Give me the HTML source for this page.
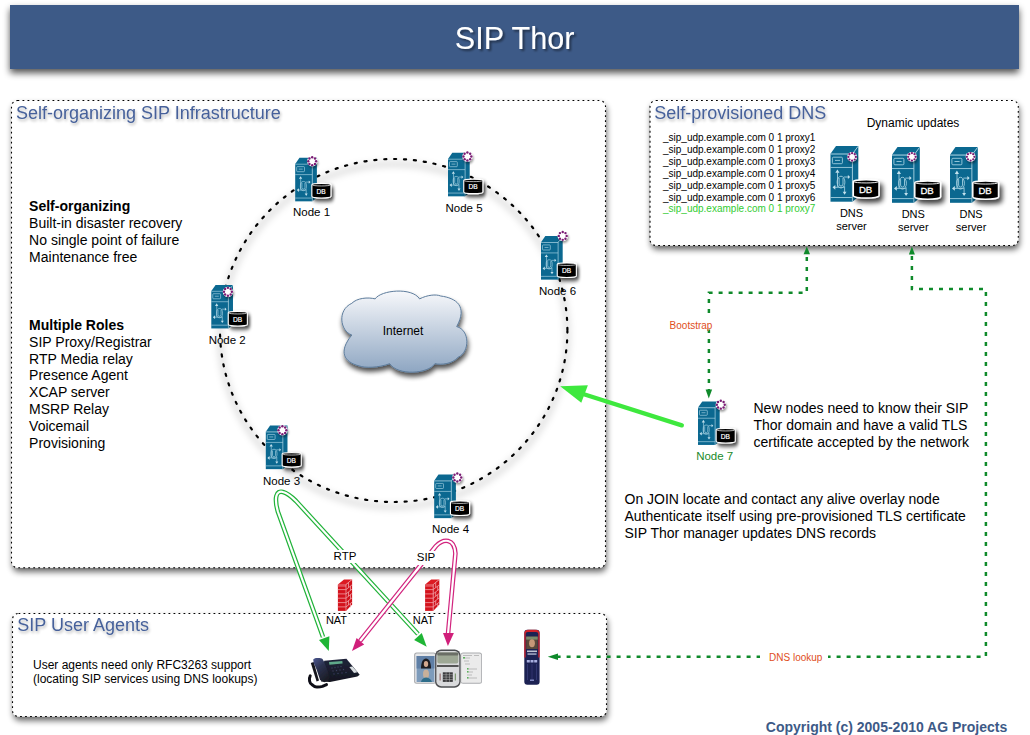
<!DOCTYPE html>
<html><head><meta charset="utf-8">
<style>
html,body{margin:0;padding:0;background:#fff;}
body{width:1030px;height:735px;overflow:hidden;position:relative;}
svg{position:absolute;left:0;top:0;}
text{font-family:"Liberation Sans",sans-serif;}
</style></head>
<body>
<svg width="1030" height="735" viewBox="0 0 1030 735">
<defs>
  <filter id="shBanner" x="-5%" y="-40%" width="110%" height="190%">
    <feGaussianBlur in="SourceAlpha" stdDeviation="3.6"/>
    <feOffset dx="0.3" dy="4.2" result="b"/>
    <feComponentTransfer><feFuncA type="linear" slope="0.68"/></feComponentTransfer>
    <feMerge><feMergeNode/><feMergeNode in="SourceGraphic"/></feMerge>
  </filter>
  <filter id="shBox" x="-5%" y="-5%" width="110%" height="120%">
    <feGaussianBlur in="SourceAlpha" stdDeviation="3.2"/>
    <feOffset dx="1" dy="4" result="b"/>
    <feComponentTransfer><feFuncA type="linear" slope="0.62"/></feComponentTransfer>
    <feMerge><feMergeNode/><feMergeNode in="SourceGraphic"/></feMerge>
  </filter>
  <filter id="shTxt" x="-10%" y="-40%" width="120%" height="180%">
    <feGaussianBlur in="SourceAlpha" stdDeviation="1.6"/>
    <feOffset dx="0.5" dy="1.8" result="b"/>
    <feComponentTransfer><feFuncA type="linear" slope="0.3"/></feComponentTransfer>
    <feMerge><feMergeNode/><feMergeNode in="SourceGraphic"/></feMerge>
  </filter>
  <filter id="shTitle" x="-10%" y="-30%" width="120%" height="160%">
    <feGaussianBlur in="SourceAlpha" stdDeviation="1"/>
    <feOffset dx="1.5" dy="1.5" result="b"/>
    <feComponentTransfer><feFuncA type="linear" slope="0.45"/></feComponentTransfer>
    <feMerge><feMergeNode/><feMergeNode in="SourceGraphic"/></feMerge>
  </filter>
  <filter id="shCloud" x="-20%" y="-20%" width="140%" height="150%">
    <feGaussianBlur in="SourceAlpha" stdDeviation="2.6"/>
    <feOffset dx="1" dy="3.5" result="b"/>
    <feComponentTransfer><feFuncA type="linear" slope="0.7"/></feComponentTransfer>
    <feMerge><feMergeNode/><feMergeNode in="SourceGraphic"/></feMerge>
  </filter>
  <filter id="shRing" x="-20%" y="-20%" width="140%" height="140%">
    <feGaussianBlur stdDeviation="3"/>
  </filter>
  <filter id="shObj" x="-30%" y="-30%" width="160%" height="160%">
    <feGaussianBlur in="SourceAlpha" stdDeviation="1.6"/>
    <feOffset dx="1.5" dy="3" result="b"/>
    <feComponentTransfer><feFuncA type="linear" slope="0.6"/></feComponentTransfer>
    <feMerge><feMergeNode/><feMergeNode in="SourceGraphic"/></feMerge>
  </filter>
  <filter id="shDB" x="-50%" y="-50%" width="220%" height="240%">
    <feGaussianBlur in="SourceAlpha" stdDeviation="2.4"/>
    <feOffset dx="2.5" dy="3.5" result="b"/>
    <feComponentTransfer><feFuncA type="linear" slope="0.75"/></feComponentTransfer>
    <feMerge><feMergeNode/><feMergeNode in="SourceGraphic"/></feMerge>
  </filter>
  <filter id="shDot" x="-60%" y="-60%" width="220%" height="220%">
    <feGaussianBlur in="SourceAlpha" stdDeviation="1"/>
    <feOffset dx="1" dy="1.5" result="b"/>
    <feComponentTransfer><feFuncA type="linear" slope="0.4"/></feComponentTransfer>
    <feMerge><feMergeNode/><feMergeNode in="SourceGraphic"/></feMerge>
  </filter>
  <linearGradient id="cloudG" x1="0" y1="0" x2="0" y2="1">
    <stop offset="0" stop-color="#f7f8fb"/>
    <stop offset="1" stop-color="#8ea6c2"/>
  </linearGradient>
  <!-- server icon in DNS units: front-left=0, top=0, DB right ~48.5, bottom ~56.5 -->
  <symbol id="tw" overflow="visible">
    <g>
      <polygon points="0,8.2 5.5,0.4 27.8,0.4 21.9,8.2" fill="#0b6890"/>
      <polygon points="21.9,8.2 27.8,0.4 27.8,51.5 21.9,56.2" fill="#0b6890"/>
      <rect x="0" y="8.2" width="21.9" height="48" fill="#0b6890"/>
      <g fill="none" stroke="#a9d3e3" stroke-width="0.85">
        <polyline points="0,8.6 21.9,8.6 27.6,0.8"/>
        <line x1="21.9" y1="8.2" x2="21.9" y2="56.2"/>
        <line x1="0" y1="21.95" x2="21.9" y2="21.95"/>
        <line x1="0" y1="52" x2="21.9" y2="52"/>
        <rect x="1.9" y="11.7" width="10" height="6.5" rx="1"/>
        <line x1="4.5" y1="14.9" x2="9.6" y2="14.9"/>
        <line x1="7" y1="27" x2="7" y2="41.3"/>
        <line x1="13.3" y1="31.5" x2="17.8" y2="31.5"/>
        <line x1="14.1" y1="40.7" x2="14.1" y2="46.6"/>
        <line x1="4.4" y1="41.8" x2="13.8" y2="41.8"/>
        <ellipse cx="10.5" cy="36.6" rx="3.9" ry="5.9"/>
        <path d="M8.6,32.5 L8.6,38.5 Q8.6,40.5 10.55,40.5 Q12.5,40.5 12.5,38.5 L12.5,32.5"/>
      </g>
      <g fill="#c4e2ee">
        <polygon points="6.9,24 4.8,27.3 9,27.3"/>
        <polygon points="19.6,31.5 17.4,29.4 17.4,33.6"/>
        <polygon points="14.1,49.3 12.2,46.3 16,46.3"/>
        <polygon points="2,41.8 4.8,39.4 4.8,44.2"/>
      </g>
      </g>
  </symbol>
  <symbol id="db" overflow="visible">
    <g filter="url(#shDB)">
      <path d="M0.75,2.2 A12.85,1.5 0 0 1 26.45,2.2 L26.45,16.7 A12.85,2.2 0 0 1 0.75,16.7 Z" fill="#000" stroke="#fff" stroke-width="1.5"/>
    </g>
    <path d="M1.3,2.5 A12.3,1.3 0 0 0 25.9,2.5" fill="none" stroke="#fff" stroke-width="0.9"/>
</symbol>
  <symbol id="dc" overflow="visible">
    <circle cx="0" cy="0" r="4.9" fill="#fff" filter="url(#shDot)"/>
    <g fill="#7a1c74"><circle cx="0.00" cy="-3.75" r="1.15"/><circle cx="2.65" cy="-2.65" r="1.15"/><circle cx="3.75" cy="-0.00" r="1.15"/><circle cx="2.65" cy="2.65" r="1.15"/><circle cx="0.00" cy="3.75" r="1.15"/><circle cx="-2.65" cy="2.65" r="1.15"/><circle cx="-3.75" cy="0.00" r="1.15"/><circle cx="-2.65" cy="-2.65" r="1.15"/></g>
  </symbol>
</defs>

<!-- Banner -->
<rect x="10" y="5" width="1009" height="64" fill="#3d5a87" filter="url(#shBanner)"/>
<text x="514.6" y="48.8" font-size="30.6" fill="#fff" text-anchor="middle" filter="url(#shTitle)">SIP Thor</text>

<!-- Boxes -->
<g filter="url(#shBox)">
  <rect x="11.5" y="100.5" width="594" height="467.2" rx="6" fill="#fff"/>
  <rect x="650" y="100.5" width="368.3" height="145" rx="6" fill="#fff"/>
  <rect x="12.5" y="613.5" width="594" height="103" rx="6" fill="#fff"/>
</g>
<g fill="none" stroke="#000" stroke-width="1.1" stroke-dasharray="1.8 3.2">
  <rect x="11.5" y="100.5" width="594" height="467.2" rx="6"/>
  <rect x="650" y="100.5" width="368.3" height="145" rx="6"/>
  <rect x="12.5" y="613.5" width="594" height="103" rx="6"/>
</g>

<!-- Box titles -->
<g font-size="18" fill="#46619a" filter="url(#shTxt)">
  <text x="16" y="119">Self-organizing SIP Infrastructure</text>
  <text x="654.2" y="118.5">Self-provisioned DNS</text>
  <text x="17.2" y="630.5">SIP User Agents</text>
</g>

<!-- Left text -->
<g font-size="14" fill="#000">
  <text x="29.1" y="210.7" font-weight="bold">Self-organizing</text>
  <text x="29.1" y="227.7">Built-in disaster recovery</text>
  <text x="29.1" y="244.7">No single point of failure</text>
  <text x="29.1" y="261.6">Maintenance free</text>
  <text x="29.1" y="329.9" font-weight="bold">Multiple Roles</text>
  <text x="29.1" y="346.7">SIP Proxy/Registrar</text>
  <text x="29.1" y="363.6">RTP Media relay</text>
  <text x="29.1" y="380.4">Presence Agent</text>
  <text x="29.1" y="397.3">XCAP server</text>
  <text x="29.1" y="414.1">MSRP Relay</text>
  <text x="29.1" y="431">Voicemail</text>
  <text x="29.1" y="447.8">Provisioning</text>
</g>

<!-- DNS box text -->
<g font-size="10" fill="#000">
  <text x="663" y="141.1">_sip_udp.example.com 0 1 proxy1</text>
  <text x="663" y="152.9">_sip_udp.example.com 0 1 proxy2</text>
  <text x="663" y="164.7">_sip_udp.example.com 0 1 proxy3</text>
  <text x="663" y="176.6">_sip_udp.example.com 0 1 proxy4</text>
  <text x="663" y="188.6">_sip_udp.example.com 0 1 proxy5</text>
  <text x="663" y="200.5">_sip_udp.example.com 0 1 proxy6</text>
  <text x="663" y="212.4" fill="#33cc33">_sip_udp.example.com 0 1 proxy7</text>
</g>
<text x="913" y="126.7" font-size="12" fill="#000" text-anchor="middle">Dynamic updates</text>
<g font-size="11" fill="#000" text-anchor="middle">
  <text x="851.5" y="217">DNS</text><text x="851.5" y="229.7">server</text>
  <text x="913.3" y="217.7">DNS</text><text x="913.3" y="230.5">server</text>
  <text x="971.1" y="217.7">DNS</text><text x="971.1" y="230.5">server</text>
</g>

<!-- Right text -->
<g font-size="14" fill="#000">
  <text x="753.5" y="413.2">New nodes need to know their SIP</text>
  <text x="753.5" y="430">Thor domain and have a valid TLS</text>
  <text x="753.5" y="446.5">certificate accepted by the network</text>
  <text x="624.5" y="504.2">On JOIN locate and contact any alive overlay node</text>
  <text x="624.5" y="521">Authenticate itself using pre-provisioned TLS certificate</text>
  <text x="624.5" y="537.5">SIP Thor manager updates DNS records</text>
</g>

<!-- UA text -->
<g font-size="12" fill="#000">
  <text x="33" y="669">User agents need only RFC3263 support</text>
  <text x="33" y="682.8">(locating SIP services using DNS lookups)</text>
</g>

<!-- Copyright -->
<text x="765.8" y="731.7" font-size="14" font-weight="bold" fill="#3d5a87">Copyright (c) 2005-2010 AG Projects</text>

<!-- Node labels -->
<g font-size="11.5" fill="#000" text-anchor="middle">
  <text x="311.5" y="215.8">Node 1</text>
  <text x="464" y="212.1">Node 5</text>
  <text x="557.5" y="295.4">Node 6</text>
  <text x="227.2" y="344.2">Node 2</text>
  <text x="281.5" y="484.9">Node 3</text>
  <text x="450.5" y="533.1">Node 4</text>
  <text x="714.7" y="460.4" fill="#1a8a2a">Node 7</text>
</g>

<!-- Ring -->
<ellipse cx="393.7" cy="335.5" rx="173.7" ry="171.5" fill="none" stroke="#000" stroke-opacity="0.1" stroke-width="7" filter="url(#shRing)"/>
<ellipse cx="393.7" cy="330.5" rx="173.7" ry="171.5" fill="none" stroke="#000" stroke-width="2.2" stroke-dasharray="2.1 7.82" stroke-linecap="round"/>

<!-- Cloud -->
<path filter="url(#shCloud)" fill="url(#cloudG)" stroke="#5d7c9c" stroke-width="1"
 d="M351.8,335 C340,331 337,310 351.8,303.3 C357,298 368,297 375.1,298.9 C381,290 412,287 419.6,298.9 C427,295 436,294 440.7,296 C456,298 468,306 456.7,326.6 C470,330 470,352 458.2,357.2 C452,364 442,365 434.9,363.7 C428,374 398,376 389.7,363.7 C378,368 365,368 359.1,365.9 C344,362 338,352 351.8,335 Z"/>
<text x="403" y="334.9" font-size="12" fill="#000" text-anchor="middle">Internet</text>

<!-- Node icons -->
<g>
  <use href="#tw" transform="translate(295.2,157.5) scale(0.78,0.78)"/>
  <use href="#db" transform="translate(311.3,182.9) scale(0.743,0.8)"/>
  <text x="321.1" y="193.5" font-size="6.6" fill="#fff" stroke="#fff" stroke-width="0.2" text-anchor="middle">DB</text>
  <use href="#dc" transform="translate(312.2,161.2) scale(1.05)"/>
  <use href="#tw" transform="translate(448,152.5) scale(0.78,0.78)"/>
  <use href="#db" transform="translate(463.2,178.6) scale(0.743,0.8)"/>
  <text x="473.0" y="189.2" font-size="6.6" fill="#fff" stroke="#fff" stroke-width="0.2" text-anchor="middle">DB</text>
  <use href="#dc" transform="translate(467.4,156.5) scale(1.05)"/>
  <use href="#tw" transform="translate(541,235.8) scale(0.78,0.78)"/>
  <use href="#db" transform="translate(556.7,262.4) scale(0.743,0.8)"/>
  <text x="566.5" y="273.0" font-size="6.6" fill="#fff" stroke="#fff" stroke-width="0.2" text-anchor="middle">DB</text>
  <use href="#dc" transform="translate(562.7,235.9) scale(1.05)"/>
  <use href="#tw" transform="translate(211.3,284.6) scale(0.78,0.78)"/>
  <use href="#db" transform="translate(227.7,310.9) scale(0.743,0.8)"/>
  <text x="237.5" y="321.5" font-size="6.6" fill="#fff" stroke="#fff" stroke-width="0.2" text-anchor="middle">DB</text>
  <use href="#dc" transform="translate(227.9,291.8) scale(1.05)"/>
  <use href="#tw" transform="translate(265.8,425.3) scale(0.78,0.78)"/>
  <use href="#db" transform="translate(281.6,452.0) scale(0.743,0.8)"/>
  <text x="291.4" y="462.6" font-size="6.6" fill="#fff" stroke="#fff" stroke-width="0.2" text-anchor="middle">DB</text>
  <use href="#dc" transform="translate(282.4,430.2) scale(1.05)"/>
  <use href="#tw" transform="translate(434.2,474.3) scale(0.78,0.78)"/>
  <use href="#db" transform="translate(449.9,500.4) scale(0.743,0.8)"/>
  <text x="459.7" y="511.0" font-size="6.6" fill="#fff" stroke="#fff" stroke-width="0.2" text-anchor="middle">DB</text>
  <use href="#dc" transform="translate(457.3,477.5) scale(1.05)"/>
  <use href="#tw" transform="translate(698,401.1) scale(0.78,0.78)"/>
  <use href="#db" transform="translate(715.6,427.9) scale(0.743,0.8)"/>
  <text x="725.4" y="438.5" font-size="6.6" fill="#fff" stroke="#fff" stroke-width="0.2" text-anchor="middle">DB</text>
  <use href="#dc" transform="translate(720.8,404.7) scale(1.05)"/>
  <use href="#tw" transform="translate(830.5,145.5)"/>
  <use href="#db" transform="translate(852.55,179.15)"/>
  <text x="865.6" y="193.0" font-size="9.6" fill="#fff" stroke="#fff" stroke-width="0.3" text-anchor="middle">DB</text>
  <use href="#dc" transform="translate(852.1,156.9)"/>
  <use href="#tw" transform="translate(892,146.6)"/>
  <use href="#db" transform="translate(914.05,180.25)"/>
  <text x="927.1" y="194.1" font-size="9.6" fill="#fff" stroke="#fff" stroke-width="0.3" text-anchor="middle">DB</text>
  <use href="#dc" transform="translate(911.9,156.8)"/>
  <use href="#tw" transform="translate(950,146.6)"/>
  <use href="#db" transform="translate(972.05,180.25)"/>
  <text x="985.1" y="194.1" font-size="9.6" fill="#fff" stroke="#fff" stroke-width="0.3" text-anchor="middle">DB</text>
  <use href="#dc" transform="translate(970.6,156.8)"/>
</g>

<!-- RTP / SIP hollow arrows -->
<g fill="none" stroke-linecap="butt" stroke-linejoin="round">
  <path id="gpath" d="M323,637 L278,512 C274,498 276,490 283,492 C287,493 291,496 296,501 L418,634" stroke="#22b33a" stroke-width="4.6"/>
  <path d="M323,637 L278,512 C274,498 276,490 283,492 C287,493 291,496 296,501 L418,634" stroke="#fff" stroke-width="2.2"/>
  <path d="M360,641 L436,546 C443.5,538.3 454.5,537.8 455.4,553.5 L448,634" stroke="#d2247e" stroke-width="4.6"/>
  <path d="M360,641 L436,546 C443.5,538.3 454.5,537.8 455.4,553.5 L448,634" stroke="#fff" stroke-width="2.2"/>
</g>
<g>
  <polygon points="328.8,651 319,640.1 329.4,636.3" fill="#1fb535"/>
  <polygon points="426.7,646.7 414.1,640.1 421.8,633.1" fill="#1fb535"/>
  <polygon points="352,651 356.6,638 364.2,644.5" fill="#d01f7a"/>
  <polygon points="447.9,645.9 443,633.1 453.9,633.1" fill="#d01f7a"/>
</g>
<rect x="331" y="550" width="28" height="13" fill="#fff"/>
<rect x="414" y="551" width="24" height="14" fill="#fff"/>
<text x="345" y="559.6" font-size="11.5" fill="#000" text-anchor="middle">RTP</text>
<text x="426" y="561.4" font-size="11.5" fill="#000" text-anchor="middle">SIP</text>

<!-- Firewalls -->
<symbol id="fw" overflow="visible">
  <polygon points="0,5 6.1,0 14.2,0 8.1,5" fill="#dc1a22"/>
  <polygon points="8.1,5 14.2,0 14.2,25 8.1,31.4" fill="#d0121b"/>
  <rect x="0" y="5" width="8.1" height="26.4" fill="#d4121c"/>
  <rect x="0" y="5.5" width="8.1" height="1.8" fill="#e2525a"/>
  <g stroke="#f0a0a6" stroke-width="0.8"><line x1="0" y1="10.1" x2="8" y2="10.1"/><line x1="0" y1="14.4" x2="8" y2="14.4"/><line x1="0" y1="18.7" x2="8" y2="18.7"/><line x1="0" y1="23.1" x2="8" y2="23.1"/><line x1="0" y1="27.4" x2="8" y2="27.4"/><line x1="8.1" y1="10.1" x2="14.2" y2="5.3"/><line x1="8.1" y1="14.4" x2="14.2" y2="9.6"/><line x1="8.1" y1="18.7" x2="14.2" y2="13.9"/><line x1="8.1" y1="23.1" x2="14.2" y2="18.3"/><line x1="8.1" y1="27.4" x2="14.2" y2="22.6"/><line x1="10.6" y1="3.23" x2="10.6" y2="8.13"/><line x1="12.6" y1="6.56" x2="12.6" y2="10.86"/><line x1="10.6" y1="12.43" x2="10.6" y2="16.73"/><line x1="12.6" y1="15.16" x2="12.6" y2="19.56"/><line x1="10.6" y1="21.13" x2="10.6" y2="25.43"/><line x1="12.6" y1="23.86" x2="12.6" y2="27.76"/>
    <line x1="8.1" y1="5" x2="8.1" y2="31.4"/><line x1="8.1" y1="5" x2="14.2" y2="0"/>
  </g>
</symbol>
<use href="#fw" transform="translate(337.9,579.5)"/>
<use href="#fw" transform="translate(425.1,579.5)"/>
<g font-size="11" fill="#000" text-anchor="middle">
  <text x="336.5" y="624.4">NAT</text>
  <text x="423.3" y="624.4">NAT</text>
</g>

<!-- Devices -->
<defs>
  <filter id="soft" x="-10%" y="-10%" width="120%" height="120%"><feGaussianBlur stdDeviation="0.45"/></filter>
  <linearGradient id="hsG" x1="0" y1="0" x2="0.6" y2="1">
    <stop offset="0" stop-color="#4c5790"/><stop offset="0.45" stop-color="#2c3350"/><stop offset="1" stop-color="#1b1d26"/>
  </linearGradient>
  <linearGradient id="phG" x1="0" y1="0" x2="0" y2="1">
    <stop offset="0" stop-color="#20243a"/><stop offset="1" stop-color="#141620"/>
  </linearGradient>
</defs>
<g id="deskphone" filter="url(#soft)">
  <path d="M324.2,660.7 L346.4,658.7 L359.7,674.7 L357.4,676.5 L330,682 L321,681.5 Z" fill="url(#phG)"/>
  <path d="M329,662 L342.3,661 L342.6,663.6 L329.4,664.8 Z" fill="#5fa88a"/>
  <path d="M349.3,667 L352.5,666.4 L357.4,672.2 L354,673 Z" fill="#d8dde0"/>
  <g fill="#3a4060">
    <circle cx="332" cy="668" r="0.7"/><circle cx="335" cy="667.5" r="0.7"/><circle cx="338" cy="667" r="0.7"/><circle cx="341" cy="666.5" r="0.7"/>
    <circle cx="333" cy="671" r="0.7"/><circle cx="336.5" cy="670.5" r="0.7"/><circle cx="340" cy="670" r="0.7"/><circle cx="343.5" cy="669.5" r="0.7"/>
    <circle cx="334" cy="674" r="0.7"/><circle cx="338" cy="673.5" r="0.7"/><circle cx="342" cy="673" r="0.7"/><circle cx="346" cy="672.5" r="0.7"/>
  </g>
  <path d="M310.8,663.1 L313.7,662 L319,680.5 L316.6,681.5 Z" fill="#15171f"/>
  <path d="M313.2,659.6 C314.5,658.3 316.6,658 316.6,658.1 C319,657.8 321.5,658.3 322.5,659 L324.2,661.9 L327.1,669.5 L329.5,676.5 L328.3,680.5 L324.2,682.3 L320.1,680 L316.6,669.5 L313.7,663.1 Z" fill="url(#hsG)"/>
  <path d="M310.2,675.9 C308.6,679 309.5,683.5 312,684.6 C314,686.5 316,687 316.6,687 C319,687.2 321,686.8 322.5,686.4 L326.5,684.6" fill="none" stroke="#101116" stroke-width="3" stroke-linecap="round"/>
</g>
<g id="softphone" filter="url(#soft)">
  <rect x="414.1" y="652.4" width="22" height="31.3" rx="2.5" fill="#a9abae"/>
  <rect x="415.2" y="653.4" width="20" height="29.3" rx="1.5" fill="#e6e7e9"/>
  <rect x="416.6" y="656" width="17.8" height="26" fill="#7d9bbb"/>
  <rect x="416.6" y="656" width="17.8" height="12.5" fill="#5e7fa6"/>
  <path d="M421,668.5 C421,662 423,658.5 426,658.5 C429,658.5 431,662 431,668.5 Z" fill="#1e1c22"/>
  <ellipse cx="426" cy="664" rx="2.2" ry="3" fill="#d2a890"/>
  <ellipse cx="426" cy="674" rx="3" ry="4.5" fill="#c8b09a"/>
  <path d="M421,682 C422,676 430,676 432,682 Z" fill="#2d6d8a"/>
  <rect x="460.6" y="652.4" width="21.4" height="31.3" rx="2.5" fill="#a9abae"/>
  <rect x="461.2" y="653.4" width="20" height="29.3" rx="1.5" fill="#ebebeb"/>
  <g stroke="#9a9a9a" stroke-width="0.6">
    <line x1="463" y1="655.5" x2="472" y2="655.5"/><line x1="474" y1="655.5" x2="479" y2="655.5"/>
    <line x1="463" y1="658" x2="470" y2="658"/><line x1="464" y1="661" x2="469" y2="661"/>
    <line x1="465" y1="664" x2="470" y2="664"/><line x1="467" y1="669" x2="477" y2="669"/>
    <line x1="467" y1="672" x2="473" y2="672"/><line x1="467" y1="675" x2="472" y2="675"/>
    <line x1="467" y1="678" x2="477" y2="678"/>
  </g>
  <g fill="#5ab55a"><rect x="463" y="657" width="2" height="1.5"/><rect x="467" y="668" width="1.5" height="1.5"/><rect x="467" y="671" width="1.5" height="1.5"/><rect x="467" y="677" width="1.5" height="1.5"/></g>
  <rect x="435.1" y="649.4" width="25.5" height="38.4" rx="6" fill="#4e4f52"/>
  <rect x="436.4" y="651" width="22.9" height="35.3" rx="5" fill="#d9dadc"/>
  <rect x="437.3" y="652.4" width="21" height="11.1" rx="2" fill="#9ea895"/>
  <rect x="437.3" y="652.4" width="21" height="3" rx="1" fill="#6a6e66"/>
  <rect x="437" y="665" width="21.6" height="2" fill="#555"/>
  <rect x="442.8" y="672.3" width="10" height="9.6" fill="#3a3a3c"/>
  <g stroke="#bbb" stroke-width="0.5"><line x1="442.8" y1="674.7" x2="452.8" y2="674.7"/><line x1="442.8" y1="677.1" x2="452.8" y2="677.1"/><line x1="442.8" y1="679.5" x2="452.8" y2="679.5"/><line x1="446.1" y1="672.3" x2="446.1" y2="681.9"/><line x1="449.5" y1="672.3" x2="449.5" y2="681.9"/></g>
  <rect x="439.6" y="673.5" width="1" height="7" fill="#8a5a5a"/>
  <rect x="454.8" y="673.5" width="1" height="7" fill="#6a8a5a"/>
</g>
<g id="mobile" filter="url(#soft)">
  <rect x="524.3" y="629.7" width="15.3" height="55" rx="3" fill="#1c2152"/>
  <path d="M524.3,657.5 L524.3,633.5 Q524.3,629.7 528.5,629.7 L535.4,629.7 Q539.6,629.7 539.6,633.5 L539.6,657.5 L538.3,657.5 L538.3,634 Q538.3,632 536,632 L527.9,632 Q525.6,632 525.6,634 L525.6,657.5 Z" fill="#d0242c"/>
  <rect x="526.2" y="636.6" width="11.5" height="12.4" fill="#5a4a3a"/>
  <rect x="526.2" y="636.6" width="11.5" height="3" fill="#7a8a6a"/>
  <ellipse cx="532" cy="643.2" rx="2.9" ry="4" fill="#c89878"/>
  <rect x="527" y="650.5" width="10" height="1.6" fill="#c0c4d4"/>
  <rect x="527.5" y="653.3" width="9" height="1.5" fill="#a8aec8"/>
  <g fill="#a8b0e0"><rect x="526.8" y="660" width="3" height="2.5"/><rect x="530.5" y="660" width="3" height="2.5"/><rect x="534.2" y="660" width="3" height="2.5"/></g>
  <g stroke="#3a4280" stroke-width="0.7"><line x1="527.5" y1="664" x2="527.5" y2="680"/><line x1="532" y1="664" x2="532" y2="680"/><line x1="536.5" y1="664" x2="536.5" y2="680"/></g>
  <rect x="530" y="679.5" width="4" height="1.5" fill="#8088c0"/>
</g>

<!-- Dotted green lines -->
<g fill="none" stroke="#0f8a2b" stroke-width="2.5" stroke-dasharray="4 6">
  <polyline points="806.8,256 806.8,292.8 708.9,292.8 708.9,390" stroke-dashoffset="-1"/>
  <polyline points="911.9,256 911.9,288.9 985.9,288.9 985.9,656.7 558,656.7"/>
</g>
<g fill="#0f8a2b">
  <polygon points="806.8,246.6 803.6,254.3 810,254.3"/>
  <polygon points="911.9,246.4 908.9,254.6 914.9,254.6"/>
  <polygon points="708.8,398.6 705.6,389.4 712.1,389.4"/>
  <polygon points="547.8,656.7 558,653.5 558,659.9"/>
</g>
<rect x="668" y="314.5" width="46" height="15" fill="#fff"/>
<text x="691" y="328.8" font-size="10" fill="#e04e1c" text-anchor="middle">Bootstrap</text>
<rect x="760" y="651" width="68" height="12" fill="#fff"/>
<text x="795.7" y="660.9" font-size="10" fill="#e04e1c" text-anchor="middle">DNS lookup</text>

<!-- Big green arrow -->
<line x1="681.8" y1="425.3" x2="580" y2="393" stroke="#3ee83e" stroke-width="4.4" stroke-linecap="round"/>
<polygon points="560.2,386.3 587.9,385.3 581.3,402.8" fill="#3ee83e"/>

</svg>
</body></html>
